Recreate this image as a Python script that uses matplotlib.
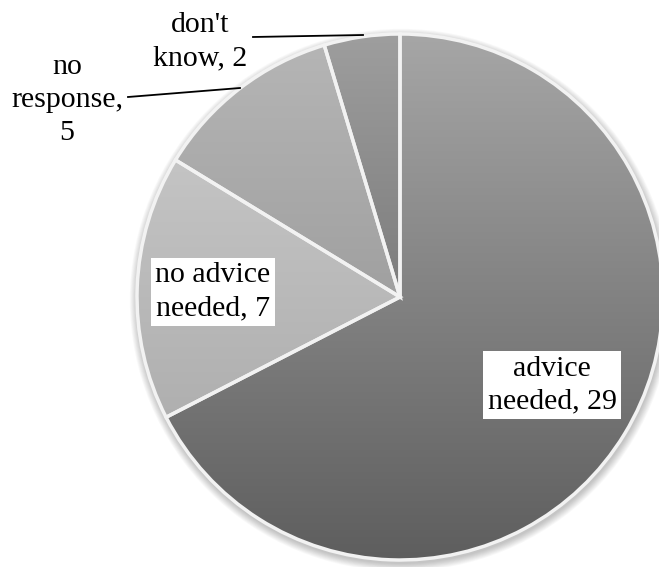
import numpy as np
import matplotlib
matplotlib.use("Agg")
import matplotlib.pyplot as plt
import matplotlib.colors as mcolors
from matplotlib.patches import Circle

# data
labels = ["advice\nneeded, 29", "no advice\nneeded, 7", "no\nresponse,\n5", "don't\nknow, 2"]
values = [29, 7, 5, 2]

# gray gradients (top colour, bottom colour) per slice
grads = [("#a6a6a6", "#5e5e5e"),
         ("#cecece", "#a4a4a4"),
         ("#b6b6b6", "#8a8a8a"),
         ("#9e9e9e", "#5a5a5a")]

W, H = 659, 567
cx, cy, r = 400, H - 297, 263

plt.rcParams['font.family'] = ['Liberation Serif', 'DejaVu Serif']

fig = plt.figure(figsize=(W / 100, H / 100), dpi=100)
ax = fig.add_axes([0, 0, 1, 1])

# soft shadow under the pie
for k in range(10):
    ax.add_patch(Circle((cx + 1, cy - 3), r + 1 + k * 0.8, color="black",
                        alpha=0.025, lw=0, zorder=0))

wedges, _ = ax.pie(values, startangle=90, counterclock=False, center=(cx, cy),
                   radius=r, colors=[g[0] for g in grads],
                   wedgeprops=dict(linewidth=0), frame=True)
for w in wedges:
    w.set_zorder(1)

# gradient fill clipped to each wedge
t = np.linspace(0, 1, 256)[:, None, None]
for w, (c_top, c_bot) in zip(wedges, grads):
    top = np.array(mcolors.to_rgb(c_top))
    bot = np.array(mcolors.to_rgb(c_bot))
    arr = top * (1 - t) + bot * t
    im = ax.imshow(arr, extent=(cx - r, cx + r, cy - r, cy + r), origin="upper",
                   aspect="auto", zorder=2, interpolation="bilinear")
    im.set_clip_path(w)

# white separators / rim
edges, _ = ax.pie(values, startangle=90, counterclock=False, center=(cx, cy),
                  radius=r, colors=["none"] * len(values),
                  wedgeprops=dict(linewidth=2.5, edgecolor="#f2f2f2"), frame=True)
for e in edges:
    e.set_zorder(3)
    e.set_facecolor("none")

fs = 21.5
ls = 1.35
box = dict(boxstyle="square,pad=0.15", fc="white", ec="none")
ax.text(552, H - 385, labels[0], ha="center", va="center", fontsize=fs,
        linespacing=ls, bbox=box, zorder=5)
ax.text(213, H - 292, labels[1], ha="center", va="center", fontsize=fs,
        linespacing=ls, bbox=box, zorder=5)
ax.text(67, H - 100, labels[2], ha="center", va="center", fontsize=fs,
        linespacing=ls, zorder=5)
ax.text(200, H - 42, labels[3], ha="center", va="center", fontsize=fs,
        linespacing=ls, zorder=5)

# leader lines
ax.plot([128, 240], [H - 97, H - 88], color="black", lw=1.3, zorder=5)
ax.plot([253, 363], [H - 37, H - 35], color="black", lw=1.3, zorder=5)

ax.set_xlim(0, W)
ax.set_ylim(0, H)
ax.set_aspect("auto")
ax.axis("off")

fig.savefig("out.png", dpi=100)
